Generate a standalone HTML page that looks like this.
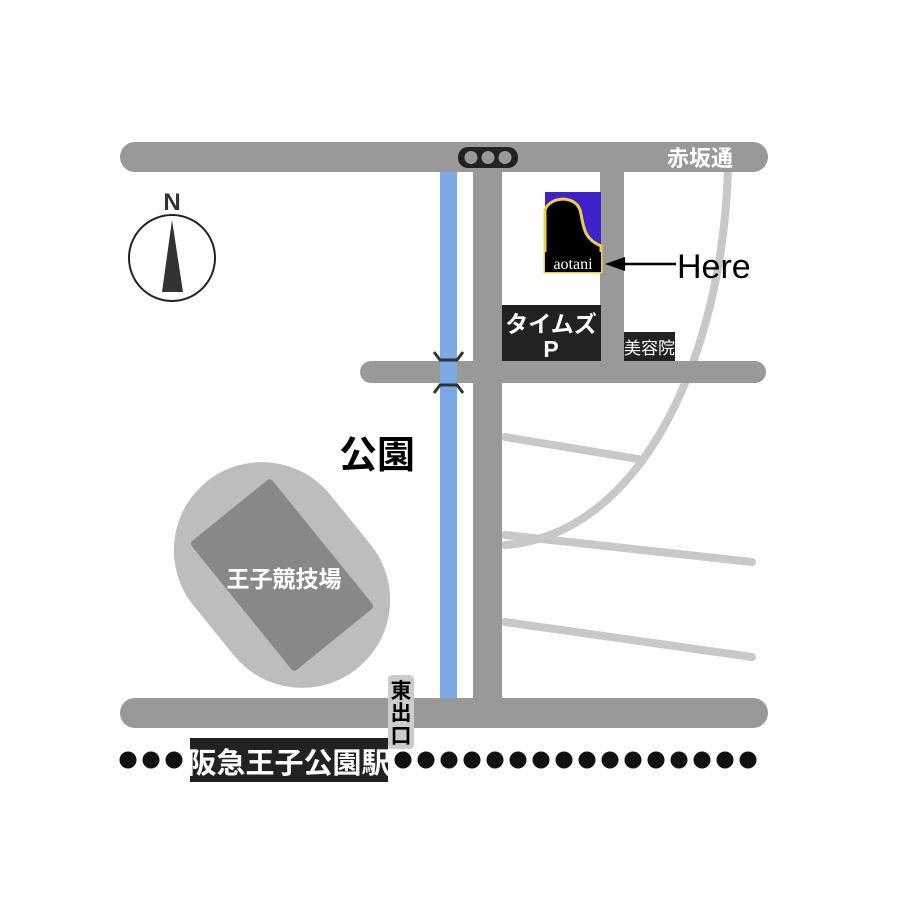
<!DOCTYPE html>
<html><head><meta charset="utf-8"><style>
html,body{margin:0;padding:0;background:#fff;}
svg{display:block;}
text{font-family:"Liberation Sans","Noto Sans CJK JP",sans-serif;}
</style></head><body>
<svg width="908" height="908" viewBox="0 0 908 908" xmlns="http://www.w3.org/2000/svg">
<rect width="908" height="908" fill="#fff"/>
<g stroke="#c8c8c8" stroke-width="8" fill="none" stroke-linecap="round">
<path d="M728,170 C722,360 640,535 505,545"/>
<line x1="505" y1="437" x2="638" y2="459"/>
<line x1="505" y1="535" x2="752" y2="562"/>
<line x1="505" y1="622" x2="752" y2="657"/>
</g>
<g transform="translate(282,575) rotate(-39)">
<rect x="-88" y="-120" width="176" height="240" rx="88" fill="#bdbdbd"/>
<rect x="-52" y="-83" width="104" height="166" rx="4" fill="#888"/>
</g>
<text x="284" y="587" font-size="23" fill="#fff" text-anchor="middle" font-weight="bold">王子競技場</text>
<g stroke="#999" stroke-linecap="round" fill="none">
<line x1="135" y1="157" x2="753" y2="157" stroke-width="30"/>
<line x1="135" y1="713" x2="753" y2="713" stroke-width="30"/>
<line x1="371" y1="372" x2="755" y2="372" stroke-width="22"/>
</g>
<rect x="473" y="157" width="29" height="556" fill="#999"/>
<rect x="600" y="157" width="24" height="215" fill="#999"/>
<rect x="440" y="172" width="17" height="526" fill="#7aa9e6"/>
<g stroke="#333" stroke-width="3" fill="none">
<path d="M434,352 L440,360 L457,360 L463,352"/>
<path d="M434,393 L440,385 L457,385 L463,393"/>
</g>
<rect x="458" y="147" width="60" height="21" rx="10" fill="#222"/>
<circle cx="471" cy="157.5" r="6.5" fill="#999"/>
<circle cx="488" cy="157.5" r="6.5" fill="#999"/>
<circle cx="505" cy="157.5" r="6.5" fill="#999"/>
<text x="700" y="166" font-size="22" fill="#fff" text-anchor="middle" font-weight="bold">赤坂通</text>
<circle cx="172" cy="258" r="43" fill="#fff" stroke="#222" stroke-width="2"/>
<polygon points="172,220 162,292 183,292" fill="#333"/>
<text x="172" y="210" font-size="24" fill="#333" text-anchor="middle" font-weight="bold">N</text>
<rect x="545" y="192" width="56" height="80" fill="#3c22c8"/>
<path d="M545,272 L545,210 C550,196 575,195 580,210 C584,225 582,238 601,246 L601,272 Z" fill="#000" stroke="#f0d040" stroke-width="3"/>
<rect x="545" y="252" width="56" height="20" fill="#000"/>
<text x="573" y="269" font-size="16" fill="#fff" text-anchor="middle" style="font-family:'Liberation Serif',serif">aotani</text>
<line x1="618" y1="264" x2="676" y2="264" stroke="#000" stroke-width="2.5"/>
<polygon points="605,264 625,257 625,271" fill="#000"/>
<text x="677" y="278" font-size="34" fill="#000">Here</text>
<rect x="502" y="305" width="99" height="56" fill="#222"/>
<text x="551" y="332" font-size="23" fill="#fff" text-anchor="middle" font-weight="bold">タイムズ</text>
<text x="551" y="357" font-size="23" fill="#fff" text-anchor="middle" font-weight="bold">P</text>
<rect x="624" y="332" width="51" height="29" fill="#222"/>
<text x="649.5" y="354" font-size="17" fill="#fff" text-anchor="middle">美容院</text>
<text x="377" y="468" font-size="38" fill="#000" text-anchor="middle" font-weight="bold">公園</text>
<g fill="#111">
<circle cx="128" cy="760" r="8.5"/><circle cx="151" cy="760" r="8.5"/><circle cx="174" cy="760" r="8.5"/>
<circle cx="403" cy="760" r="8.5"/><circle cx="426" cy="760" r="8.5"/><circle cx="449" cy="760" r="8.5"/>
<circle cx="472" cy="760" r="8.5"/><circle cx="495" cy="760" r="8.5"/><circle cx="518" cy="760" r="8.5"/>
<circle cx="541" cy="760" r="8.5"/><circle cx="564" cy="760" r="8.5"/><circle cx="587" cy="760" r="8.5"/>
<circle cx="610" cy="760" r="8.5"/><circle cx="633" cy="760" r="8.5"/><circle cx="656" cy="760" r="8.5"/>
<circle cx="679" cy="760" r="8.5"/><circle cx="702" cy="760" r="8.5"/><circle cx="725" cy="760" r="8.5"/>
<circle cx="748" cy="760" r="8.5"/>
</g>
<rect x="190" y="738" width="198" height="44" fill="#222"/>
<text x="289" y="773" font-size="29" fill="#fff" text-anchor="middle" font-weight="bold">阪急王子公園駅</text>
<rect x="388" y="675" width="26" height="74" rx="4" fill="#ccc"/>
<text x="401" y="698" font-size="21" fill="#000" text-anchor="middle" font-weight="bold">東</text>
<text x="401" y="720" font-size="21" fill="#000" text-anchor="middle" font-weight="bold">出</text>
<text x="401" y="743" font-size="21" fill="#000" text-anchor="middle" font-weight="bold">口</text>
</svg>
</body></html>
